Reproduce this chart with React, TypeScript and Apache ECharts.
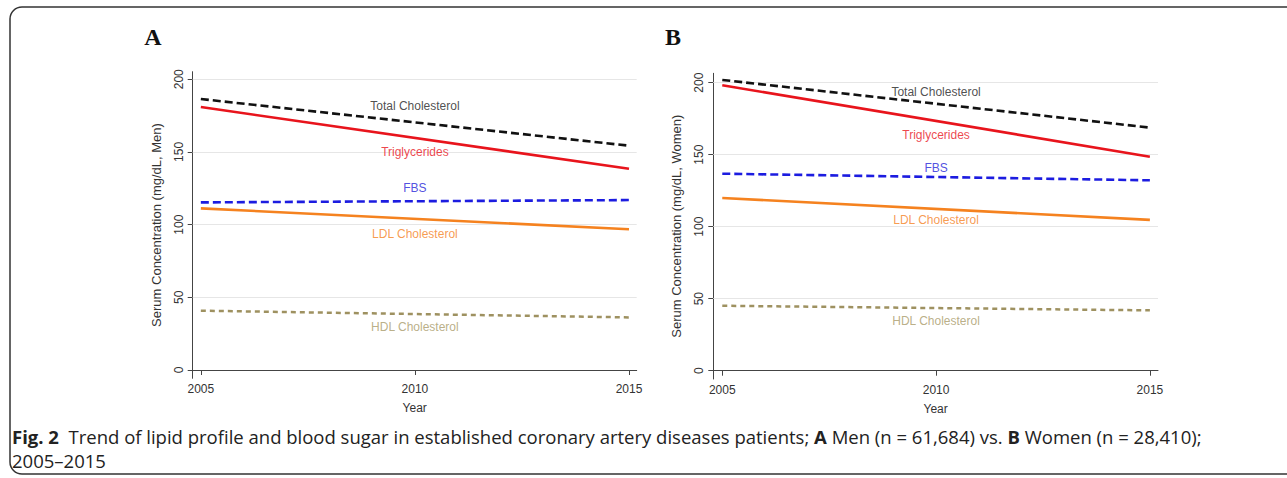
import React, { useEffect, useRef } from "react";
import * as echarts from "echarts";

const years = [2005, 2015];
const yTicks = [0, 50, 100, 150, 200];
const xTicks = [2005, 2010, 2015];

const seriesNames = ["Total Cholesterol", "Triglycerides", "FBS", "LDL Cholesterol", "HDL Cholesterol"];

const menTotal = [186.4, 154.3];
const menTrig = [180.9, 138.4];
const menFBS = [115.3, 116.9];
const menLDL = [111.2, 96.8];
const menHDL = [40.8, 36.2];

const womenTotal = [201.9, 168.8];
const womenTrig = [198.2, 148.6];
const womenFBS = [136.8, 132.2];
const womenLDL = [119.9, 104.7];
const womenHDL = [45.1, 41.9];

const labelYear = 2010;
const menLabelY = [181.8, 149.7, 125, 93.7, 29.8];
const womenLabelY = [193.7, 163.7, 141, 104.7, 34.7];

const colors = ["#111111", "#e8141c", "#1c1ce0", "#f5821f", "#9e9160"];
const labelColors = ["#222222", "#e8141c", "#2323d8", "#f5821f", "#a89a68"];
const dashed = [true, false, true, false, true];

const FONT = "'Liberation Sans', Arial, sans-serif";
const CAPTION_FONT = "'Open Sans', 'Noto Sans', sans-serif";

export default function App() {
  const ref = useRef<HTMLDivElement>(null);
  useEffect(() => {
    if (!ref.current) return;
    const chart = echarts.init(ref.current, null, { renderer: "svg" });

    const panels = [
      { vals: [menTotal, menTrig, menFBS, menLDL, menHDL], labels: menLabelY, name: "Serum Concentration (mg/dL, Men)" },
      { vals: [womenTotal, womenTrig, womenFBS, womenLDL, womenHDL], labels: womenLabelY, name: "Serum Concentration (mg/dL, Women)" },
    ];

    const grids = [
      { left: 192.7, top: 71.7, width: 444, height: 306.6 },
      { left: 713.3, top: 73.3, width: 444.7, height: 305.7 },
    ];
    const xRanges = [[2004.81, 2015.18], [2004.79, 2015.19]];
    const yRanges = [[-5.7, 205.2], [-5.76, 206.5]];

    const series: any[] = [];
    panels.forEach((p, pi) => {
      p.vals.forEach((v, si) => {
        series.push({
          type: "line",
          name: seriesNames[si],
          xAxisIndex: pi,
          yAxisIndex: pi,
          data: years.map((y, i) => [y, v[i]]),
          showSymbol: false,
          z: 3,
          lineStyle: {
            color: colors[si],
            width: si === 4 ? 2.5 : 2.6,
            type: dashed[si] ? (si === 4 ? [5, 4] : [8, 4]) : "solid",
          },
          markLine: si === 0 ? {
            silent: true,
            symbol: "none",
            label: { show: false },
            lineStyle: { color: "#e6e6e6", width: 1, type: "solid" },
            z: 1,
            data: yTicks.filter((t) => t > 0).map((t) => ({ yAxis: t })),
          } : undefined,
        });
      });
      series.push({
        type: "scatter",
        xAxisIndex: pi,
        yAxisIndex: pi,
        symbolSize: 0,
        z: 4,
        data: p.labels.map((ly, si) => ({
          value: [labelYear, ly],
          label: {
            show: true,
            position: "inside",
            formatter: seriesNames[si],
            color: labelColors[si],
            fontSize: 12,
            fontFamily: FONT,
          },
        })),
      });
    });

    const axisLineStyle = { color: "#444", width: 1 };

    chart.setOption({
      animation: false,
      backgroundColor: "#ffffff",
      grid: grids.map((g) => ({ ...g, containLabel: false })),
      xAxis: grids.map((g, i) => ({
        type: "value",
        gridIndex: i,
        min: xRanges[i][0],
        max: xRanges[i][1],
        name: "Year",
        nameLocation: "middle",
        nameGap: 24,
        nameTextStyle: { fontSize: 12, color: "#333", fontFamily: FONT },
        axisLine: { show: true, lineStyle: axisLineStyle },
        axisTick: { show: true, length: 5, customValues: xTicks, lineStyle: axisLineStyle },
        axisLabel: { customValues: xTicks, fontSize: 12, color: "#333", fontFamily: FONT, margin: 5, formatter: (v: number) => String(v) },
        splitLine: { show: false },
      })),
      yAxis: grids.map((g, i) => ({
        type: "value",
        gridIndex: i,
        min: yRanges[i][0],
        max: yRanges[i][1],
        name: panels[i].name,
        nameLocation: "middle",
        nameGap: 30,
        nameTextStyle: { fontSize: 13, color: "#333", fontFamily: FONT },
        axisLine: { show: true, lineStyle: axisLineStyle },
        axisTick: { show: true, length: 5, customValues: yTicks, lineStyle: axisLineStyle },
        axisLabel: { customValues: yTicks, rotate: 90, fontSize: 12, color: "#333", fontFamily: FONT, margin: 8 },
        splitLine: { show: false },
      })),
      series,
      graphic: [
        {
          type: "rect",
          shape: { x: 10, y: 7, width: 1300, height: 467, r: 12 },
          style: { fill: "none", stroke: "#333", lineWidth: 1.5 },
          silent: true,
        },
        {
          type: "text",
          x: 153, y: 37,
          style: { text: "A", font: "bold 24px 'Liberation Serif', 'Times New Roman', serif", fill: "#111", align: "center", verticalAlign: "middle" },
        },
        {
          type: "text",
          x: 673, y: 37,
          style: { text: "B", font: "bold 24px 'Liberation Serif', 'Times New Roman', serif", fill: "#111", align: "center", verticalAlign: "middle" },
        },
        {
          type: "text",
          x: 12, y: 436,
          style: {
            text: "{b|Fig. 2}  Trend of lipid profile and blood sugar in established coronary artery diseases patients; {b|A} Men (n = 61,684) vs. {b|B} Women (n = 28,410);",
            verticalAlign: "middle",
            fill: "#222",
            fontSize: 18.5,
            fontFamily: CAPTION_FONT,
            rich: {
              b: { fontWeight: "bold", fontSize: 18.5, fontFamily: CAPTION_FONT, fill: "#222" },
            },
          },
        },
        {
          type: "text",
          x: 12, y: 460,
          style: {
            text: "2005\u20132015",
            verticalAlign: "middle",
            fill: "#222",
            fontSize: 18.5,
            fontFamily: CAPTION_FONT,
          },
        },
      ],
    });
    return () => chart.dispose();
  }, []);

  return (
    <div
      ref={ref}
      style={{ position: "absolute", left: 0, top: 0, width: 1287, height: 478, background: "#fff" }}
    />
  );
}
